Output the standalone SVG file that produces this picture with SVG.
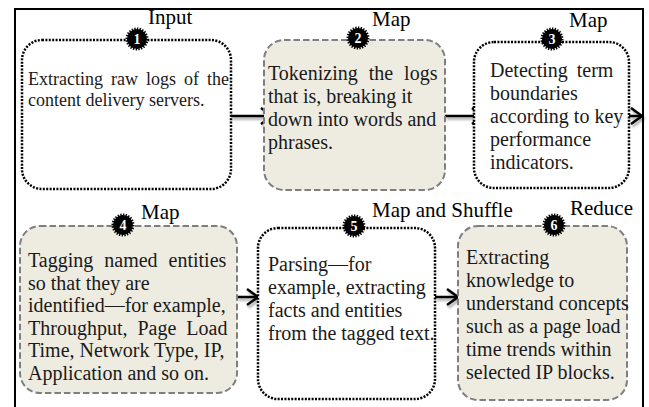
<svg xmlns="http://www.w3.org/2000/svg" width="649" height="407" viewBox="0 0 649 407">
  <defs>
    <style>
      .frame { fill: none; stroke: #000; stroke-width: 2; }
      .dotted { fill: #fff; stroke: #000; stroke-width: 2.5; stroke-dasharray: 2 1.4; }
      .dashed { fill: #eeece1; stroke: #7f7f7f; stroke-width: 2; stroke-dasharray: 6.5 3; }
      .body { font-family: "Liberation Serif", "Times New Roman", serif; font-size: 20px; fill: #1a1a1a; }
      .small { font-size: 18px; }
      .stage { font-family: "Liberation Serif", "Times New Roman", serif; font-size: 21px; fill: #000; }
      .badge { fill: #000; stroke: #000; stroke-width: 3; stroke-dasharray: 1.3 1.3; }
      .num { font-family: "Liberation Serif", "Times New Roman", serif; font-size: 14px; font-weight: bold; fill: #fff; text-anchor: middle; }
      .arrow { fill: none; stroke: #000; stroke-width: 2.5; marker-end: url(#chevron); }
    </style>
    <marker id="chevron" markerUnits="userSpaceOnUse" viewBox="-14 -10 16 20" refX="0" refY="0" markerWidth="16" markerHeight="20" orient="auto" overflow="visible">
      <path d="M-11,-8 L0,0 L-11,8" fill="none" stroke="#000" stroke-width="2.5"/>
    </marker>
    <filter id="shadow" x="-20%" y="-50%" width="140%" height="200%">
      <feDropShadow dx="1.5" dy="2.5" stdDeviation="1.2" flood-color="#000" flood-opacity="0.35"/>
    </filter>
  </defs>

  <rect width="649" height="407" fill="#fff"/>
  <!-- outer frame, bottom edge runs past the canvas -->
  <rect class="frame" x="15" y="9" width="628" height="420"/>

  <!-- connectors -->
  <g id="connectors" filter="url(#shadow)">
    <path class="arrow" d="M231,116 H272"/>
    <path class="arrow" d="M445,116 H483"/>
    <path class="arrow" d="M629,116 H642"/>
    <path class="arrow" d="M237,297 H258"/>
    <path class="arrow" d="M435,297 H458"/>
  </g>

  <!-- 1: Input -->
  <g id="node1">
    <rect class="dotted" x="22" y="40" width="209" height="149" rx="20"/>
    <text class="body small" x="28" y="85"><tspan word-spacing="3.5">Extracting raw logs of the</tspan><tspan x="28" dy="21">content delivery servers.</tspan></text>
    <circle class="badge" cx="137" cy="39" r="10"/>
    <text class="num" x="137" y="44">1</text>
    <text class="stage" x="148" y="24">Input</text>
  </g>

  <!-- 2: Map -->
  <g id="node2">
    <rect class="dashed" x="264" y="40" width="181" height="150" rx="20"/>
    <text class="body" x="268" y="80"><tspan word-spacing="6">Tokenizing the logs</tspan><tspan x="268" dy="23">that is, breaking it</tspan><tspan x="268" dy="23">down into words and</tspan><tspan x="268" dy="23">phrases.</tspan></text>
    <circle class="badge" cx="358" cy="38" r="10"/>
    <text class="num" x="358" y="43">2</text>
    <text class="stage" x="372" y="26">Map</text>
  </g>

  <!-- 3: Map -->
  <g id="node3">
    <rect class="dotted" x="474" y="42" width="155" height="146" rx="20"/>
    <text class="body" x="490" y="77"><tspan word-spacing="4">Detecting term</tspan><tspan x="490" dy="23">boundaries</tspan><tspan x="490" dy="23">according to key</tspan><tspan x="490" dy="23">performance</tspan><tspan x="490" dy="23">indicators.</tspan></text>
    <circle class="badge" cx="552" cy="39" r="10"/>
    <text class="num" x="552" y="44">3</text>
    <text class="stage" x="569" y="27">Map</text>
  </g>

  <!-- 4: Map -->
  <g id="node4">
    <rect class="dashed" x="20" y="226" width="217" height="167" rx="20"/>
    <text class="body" x="28" y="267"><tspan word-spacing="6">Tagging named entities</tspan><tspan x="28" dy="22.6">so that they are</tspan><tspan x="28" dy="22.6">identified—for example,</tspan><tspan x="28" dy="22.6" word-spacing="5">Throughput, Page Load</tspan><tspan x="28" dy="22.6">Time, Network Type, IP,</tspan><tspan x="28" dy="22.6">Application and so on.</tspan></text>
    <circle class="badge" cx="123" cy="225" r="10"/>
    <text class="num" x="123" y="230">4</text>
    <text class="stage" x="141" y="219">Map</text>
  </g>

  <!-- 5: Map and Shuffle -->
  <g id="node5">
    <rect class="dotted" x="258" y="228" width="177" height="171" rx="20"/>
    <text class="body" x="268" y="271"><tspan>Parsing—for</tspan><tspan x="268" dy="23">example, extracting</tspan><tspan x="268" dy="23">facts and entities</tspan><tspan x="268" dy="23">from the tagged text.</tspan></text>
    <circle class="badge" cx="354" cy="226" r="10"/>
    <text class="num" x="354" y="231">5</text>
    <text class="stage" x="372" y="217">Map and Shuffle</text>
  </g>

  <!-- 6: Reduce -->
  <g id="node6">
    <rect class="dashed" x="458" y="226" width="169" height="174" rx="20"/>
    <text class="body" x="466" y="264"><tspan>Extracting</tspan><tspan x="466" dy="23">knowledge to</tspan><tspan x="466" dy="23">understand concepts</tspan><tspan x="466" dy="23">such as a page load</tspan><tspan x="466" dy="23">time trends within</tspan><tspan x="466" dy="23">selected IP blocks.</tspan></text>
    <circle class="badge" cx="554" cy="225" r="10"/>
    <text class="num" x="554" y="230">6</text>
    <text class="stage" x="570" y="215">Reduce</text>
  </g>
</svg>
